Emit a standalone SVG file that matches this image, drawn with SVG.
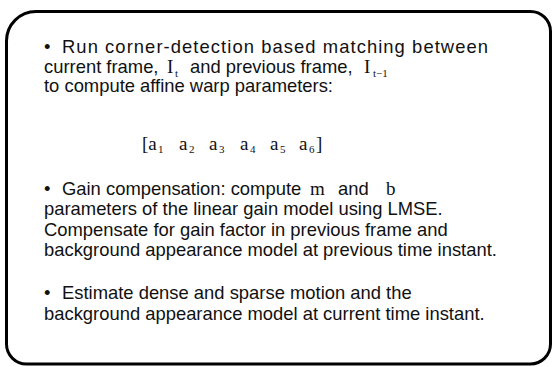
<svg xmlns="http://www.w3.org/2000/svg" width="553" height="367" viewBox="0 0 553 367">
<style>
.t{font-family:"Liberation Sans",Arial,sans-serif;font-size:18.4px;fill:#111}
.m{font-family:"Liberation Serif","Times New Roman",serif;font-size:19px;fill:#111}
.s{font-family:"Liberation Serif","Times New Roman",serif;font-size:11px;fill:#111}
</style>
<rect width="553" height="367" fill="#fff"/>
<g id="box">
<path d="M36,11.5 H530 A20,20 0 0 1 550.5,31.5 V344 A20,20 0 0 1 530.5,364 H27 A20,20 0 0 1 6.5,344 V41 A29.5,29.5 0 0 1 36,11.5 Z" fill="#fff" stroke="#000" stroke-width="3"/>
</g>
<g id="text1">
<text class="t" x="44" y="53">•</text>
<text class="t" x="62" y="53" textLength="426" lengthAdjust="spacing">Run corner-detection based matching between</text>
<text class="t" x="44" y="73">current frame,</text>
<text class="m" x="167" y="73">I</text><text class="s" x="175" y="77">t</text>
<text class="t" x="190" y="73">and previous frame,</text>
<text class="m" x="364" y="73">I</text><text class="s" x="373" y="77">t−1</text>
<text class="t" x="44" y="92">to compute affine warp parameters:</text>
</g>
<g id="matrix">
<text class="m" x="142" y="150">[a</text><text class="s" x="158" y="153">1</text>
<text class="m" x="179" y="150">a</text><text class="s" x="189" y="153">2</text>
<text class="m" x="209" y="150">a</text><text class="s" x="219" y="153">3</text>
<text class="m" x="240" y="150">a</text><text class="s" x="250" y="153">4</text>
<text class="m" x="270" y="150">a</text><text class="s" x="280" y="153">5</text>
<text class="m" x="299" y="150">a</text><text class="s" x="309" y="153">6</text>
<text class="m" x="316" y="150">]</text>
</g>
<g id="text2">
<text class="t" x="44" y="195">•</text>
<text class="t" x="62" y="195">Gain compensation: compute</text>
<text class="m" x="310" y="195">m</text>
<text class="t" x="338" y="195">and</text>
<text class="m" x="386" y="195">b</text>
<text class="t" x="44" y="215">parameters of the linear gain model using LMSE.</text>
<text class="t" x="44" y="236">Compensate for gain factor in previous frame and</text>
<text class="t" x="44" y="256">background appearance model at previous time instant.</text>
</g>
<g id="text3">
<text class="t" x="44" y="299">•</text>
<text class="t" x="62" y="299">Estimate dense and sparse motion and the</text>
<text class="t" x="44" y="320">background appearance model at current time instant.</text>
</g>
</svg>
